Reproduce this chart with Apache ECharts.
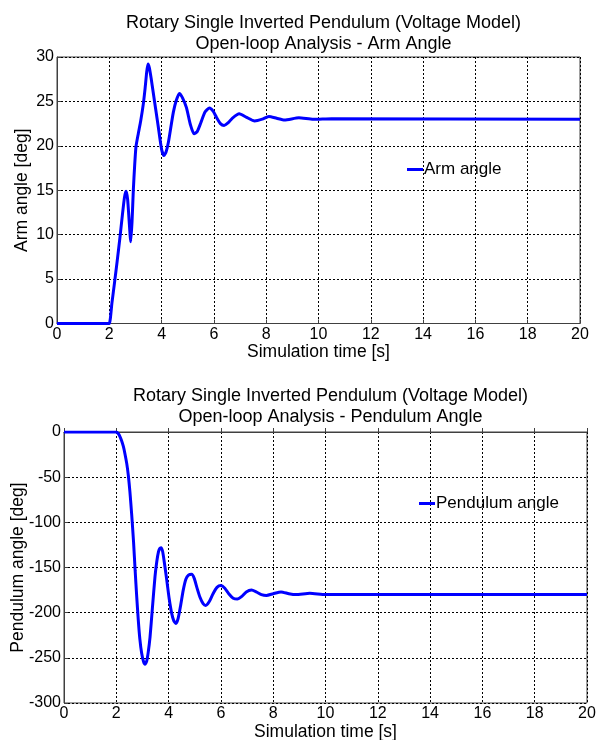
<!DOCTYPE html>
<html>
<head>
<meta charset="utf-8">
<script src="https://cdn.jsdelivr.net/npm/echarts@6/dist/echarts.min.js"></script>
<style>
  html, body { margin: 0; padding: 0; background: #fff; }
  #chart { width: 597px; height: 740px; }
</style>
</head>
<body>
<div id="chart"></div>
<script>
// Simulated open-loop response of the rotary inverted pendulum: [time (s), angle (deg)]
const armAngle = [
  [0, 0], [1.9, 0], [2.0, 0], [2.1, 2.3], [2.2, 4.6], [2.3, 7.0], [2.4, 9.5], [2.5, 12.2],
  [2.58, 14.2], [2.64, 14.9], [2.7, 14.0], [2.76, 11.5], [2.82, 9.2], [2.87, 11.5],
  [2.92, 15.1], [2.97, 17.8], [3.02, 19.9], [3.11, 21.4], [3.2, 22.8], [3.3, 24.7],
  [3.37, 26.5], [3.43, 28.3], [3.48, 29.2], [3.53, 28.8], [3.6, 27.6], [3.68, 26.0],
  [3.78, 24.0], [3.87, 22.2], [4.0, 19.6], [4.09, 18.9], [4.17, 19.3], [4.26, 20.4],
  [4.36, 22.2], [4.45, 23.8], [4.56, 25.1], [4.68, 25.9], [4.8, 25.4], [4.95, 24.3],
  [5.1, 22.4], [5.24, 21.35], [5.36, 21.6], [5.5, 22.6], [5.66, 23.8], [5.83, 24.25],
  [5.97, 23.9], [6.1, 23.2], [6.25, 22.5], [6.39, 22.3], [6.55, 22.6], [6.7, 23.1],
  [6.97, 23.6], [7.25, 23.2], [7.56, 22.8], [7.85, 23.0], [8.1, 23.3], [8.4, 23.1],
  [8.7, 22.9], [9.25, 23.15], [9.8, 22.98], [10.5, 23.05], [20, 23.0]
];
const pendulumAngle = [
  [0, 0], [1.9, 0], [2.0, 0], [2.08, -2], [2.14, -5], [2.2, -9.5], [2.27, -16],
  [2.33, -24], [2.4, -35], [2.46, -48], [2.52, -66], [2.59, -92], [2.66, -122],
  [2.72, -153], [2.78, -182], [2.84, -208], [2.9, -229], [2.97, -245], [3.04, -254],
  [3.1, -257], [3.16, -254], [3.22, -244], [3.29, -227], [3.38, -195], [3.48, -160],
  [3.55, -143], [3.61, -133], [3.66, -129], [3.71, -128], [3.77, -132], [3.84, -145],
  [3.93, -164], [4.02, -184], [4.12, -201], [4.2, -209], [4.28, -212], [4.36, -207],
  [4.46, -192], [4.56, -175], [4.66, -163], [4.76, -158.5], [4.88, -157.6], [4.98, -162],
  [5.08, -172], [5.2, -183], [5.32, -190], [5.42, -192], [5.55, -188], [5.7, -179],
  [5.85, -172], [6.0, -170], [6.15, -173], [6.3, -179], [6.47, -184], [6.63, -185],
  [6.8, -182], [6.97, -177], [7.17, -175], [7.35, -177], [7.55, -180], [7.74, -181],
  [8.0, -179], [8.3, -177], [8.6, -179], [8.87, -180], [9.4, -178.5], [10, -180], [20, -180]
];

// Axis settings
const timeRange = { min: 0, max: 20, interval: 2 };
const armRange = { min: 0, max: 30, interval: 5 };
const pendulumRange = { min: -300, max: 0, interval: 50 };

const titles = [
  'Rotary Single Inverted Pendulum (Voltage Model)\nOpen-loop Analysis - Arm Angle',
  'Rotary Single Inverted Pendulum (Voltage Model)\nOpen-loop Analysis - Pendulum Angle'
];
const xName = 'Simulation time [s]';
const yNames = ['Arm angle [deg]', 'Pendulum angle [deg]'];
const seriesNames = ['Arm angle', 'Pendulum angle'];

const FONT = '"Liberation Sans", Arial, sans-serif';
const LINE_BLUE = '#0000ff';

const grids = [
  { left: 57, top: 57, width: 523, height: 266.5 },
  { left: 64, top: 432, width: 523, height: 271 }
];

function xAxisFor(i) {
  return {
    type: 'value', gridIndex: i, ...timeRange,
    name: xName, nameLocation: 'middle', nameGap: 19,
    nameTextStyle: { fontFamily: FONT, fontSize: 17.5, color: '#000' },
    axisLine: { show: true, lineStyle: { color: '#404040', width: 1 } },
    axisTick: { show: true, inside: true, length: 4, lineStyle: { color: '#404040' } },
    axisLabel: { fontFamily: FONT, fontSize: 16, color: '#000', margin: 3 },
    splitLine: { show: true, lineStyle: { color: '#000', type: [2, 2], width: 1 } }
  };
}
function yAxisFor(i, range, gap) {
  return {
    type: 'value', gridIndex: i, ...range,
    name: yNames[i], nameLocation: 'middle', nameGap: gap, nameRotate: 90,
    nameMoveOverlap: false,
    nameTextStyle: { fontFamily: FONT, fontSize: 17.5, color: '#000' },
    axisLine: { show: true, onZero: false, lineStyle: { color: '#404040', width: 1 } },
    axisTick: { show: true, inside: true, length: 4, lineStyle: { color: '#404040' } },
    axisLabel: { fontFamily: FONT, fontSize: 16, color: '#000', margin: 3 },
    splitLine: { show: true, lineStyle: { color: '#000', type: [2, 2], width: 1 } }
  };
}

const chart = echarts.init(document.getElementById('chart'), null, { renderer: 'canvas' });
chart.setOption({
  backgroundColor: '#fff',
  animation: false,
  title: [
    { text: titles[0], left: 318.5, top: 8, textAlign: 'center',
      textStyle: { fontFamily: FONT, fontSize: 18, fontWeight: 'normal', color: '#000', lineHeight: 21 } },
    { text: titles[1], left: 325.5, top: 381, textAlign: 'center',
      textStyle: { fontFamily: FONT, fontSize: 18, fontWeight: 'normal', color: '#000', lineHeight: 21 } }
  ],
  legend: [
    { data: [seriesNames[0]], left: 402, top: 156, icon: 'rect', itemWidth: 16, itemHeight: 3,
      textStyle: { fontFamily: FONT, fontSize: 17, color: '#000', padding: [0, 0, 0, -4] } },
    { data: [seriesNames[1]], left: 414, top: 490, icon: 'rect', itemWidth: 16, itemHeight: 3,
      textStyle: { fontFamily: FONT, fontSize: 17, color: '#000', padding: [0, 0, 0, -4] } }
  ],
  grid: grids.map(g => ({
    ...g, show: true, borderColor: '#404040', borderWidth: 1, backgroundColor: '#fff',
    containLabel: false, outerBoundsMode: 'none'
  })),
  xAxis: [xAxisFor(0), xAxisFor(1)],
  yAxis: [yAxisFor(0, armRange, 26), yAxisFor(1, pendulumRange, 37)],
  series: [
    { name: seriesNames[0], type: 'line', xAxisIndex: 0, yAxisIndex: 0, data: armAngle,
      showSymbol: false, smooth: 0.2, lineStyle: { color: LINE_BLUE, width: 3 }, itemStyle: { color: LINE_BLUE } },
    { name: seriesNames[1], type: 'line', xAxisIndex: 1, yAxisIndex: 1, data: pendulumAngle,
      showSymbol: false, smooth: 0.2, lineStyle: { color: LINE_BLUE, width: 3 }, itemStyle: { color: LINE_BLUE } }
  ]
});
</script>
</body>
</html>
